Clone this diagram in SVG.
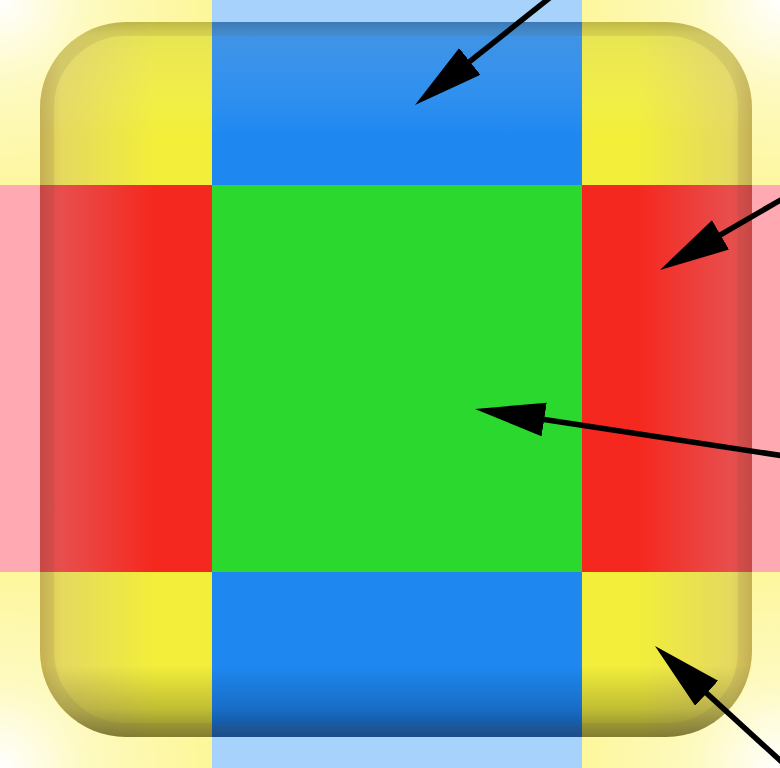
<svg xmlns="http://www.w3.org/2000/svg" width="780" height="768" viewBox="0 0 780 768">
<defs>
  <style>
    .conn{stroke:#000;stroke-width:5.5;fill:none;marker-end:url(#ah)}
  </style>
  <marker id="ah" markerUnits="userSpaceOnUse" markerWidth="72" markerHeight="36" refX="30" refY="17" orient="auto" viewBox="0 0 72 36">
    <path d="M0,0 L70,17 L0,34 z" fill="#000"/>
  </marker>
  <clipPath id="btn"><rect x="40" y="22" width="712" height="715" rx="86" ry="86"/></clipPath>
  <radialGradient id="cTL" gradientUnits="userSpaceOnUse" cx="0" cy="0" r="200">
    <stop offset="0" stop-color="#fff"/><stop offset="0.45" stop-color="#fff" stop-opacity="0.35"/><stop offset="1" stop-color="#fff" stop-opacity="0"/>
  </radialGradient>
  <radialGradient id="cTR" gradientUnits="userSpaceOnUse" cx="780" cy="0" r="200">
    <stop offset="0" stop-color="#fff"/><stop offset="0.45" stop-color="#fff" stop-opacity="0.35"/><stop offset="1" stop-color="#fff" stop-opacity="0"/>
  </radialGradient>
  <radialGradient id="cBL" gradientUnits="userSpaceOnUse" cx="0" cy="768" r="200">
    <stop offset="0" stop-color="#fff"/><stop offset="0.45" stop-color="#fff" stop-opacity="0.35"/><stop offset="1" stop-color="#fff" stop-opacity="0"/>
  </radialGradient>
  <radialGradient id="cBR" gradientUnits="userSpaceOnUse" cx="780" cy="768" r="200">
    <stop offset="0" stop-color="#fff"/><stop offset="0.45" stop-color="#fff" stop-opacity="0.35"/><stop offset="1" stop-color="#fff" stop-opacity="0"/>
  </radialGradient>
  <linearGradient id="hShade" gradientUnits="userSpaceOnUse" x1="40" y1="0" x2="752" y2="0">
    <stop offset="0" stop-color="#a07080" stop-opacity="0.4"/>
    <stop offset="0.03" stop-color="#c8a8b8" stop-opacity="0.3"/>
    <stop offset="0.16" stop-color="#c8a8b8" stop-opacity="0"/>
    <stop offset="0.84" stop-color="#c8a8b8" stop-opacity="0"/>
    <stop offset="0.97" stop-color="#c8a8b8" stop-opacity="0.3"/>
    <stop offset="1" stop-color="#a07080" stop-opacity="0.4"/>
  </linearGradient>
  <linearGradient id="vShade" gradientUnits="userSpaceOnUse" x1="0" y1="22" x2="0" y2="737">
    <stop offset="0" stop-color="#706860" stop-opacity="0.3"/>
    <stop offset="0.02" stop-color="#c0c0b8" stop-opacity="0.2"/>
    <stop offset="0.16" stop-color="#ffffff" stop-opacity="0"/>
    <stop offset="0.9" stop-color="#000020" stop-opacity="0"/>
    <stop offset="0.96" stop-color="#000020" stop-opacity="0.2"/>
    <stop offset="1" stop-color="#000020" stop-opacity="0.45"/>
  </linearGradient>
</defs>

<g id="outside">
  <rect x="0" y="0" width="212" height="185" fill="#fdf79c"/>
  <rect x="582" y="0" width="198" height="185" fill="#fdf79c"/>
  <rect x="0" y="572" width="212" height="196" fill="#fdf79c"/>
  <rect x="582" y="572" width="198" height="196" fill="#fdf79c"/>
  <rect x="212" y="0" width="370" height="185" fill="#a6d2fb"/>
  <rect x="212" y="572" width="370" height="196" fill="#a6d2fb"/>
  <rect x="0" y="185" width="212" height="387" fill="#ffaab2"/>
  <rect x="582" y="185" width="198" height="387" fill="#ffaab2"/>
  <rect x="212" y="185" width="370" height="387" fill="#2ad82e"/>
  <rect x="0" y="0" width="212" height="185" fill="url(#cTL)"/>
  <rect x="582" y="0" width="198" height="185" fill="url(#cTR)"/>
  <rect x="0" y="572" width="212" height="196" fill="url(#cBL)"/>
  <rect x="582" y="572" width="198" height="196" fill="url(#cBR)"/>
</g>

<g id="button" clip-path="url(#btn)">
  <g id="corner-tl"><rect x="0" y="0" width="212" height="185" fill="#f2ee3a"/></g>
  <g id="corner-tr"><rect x="582" y="0" width="198" height="185" fill="#f2ee3a"/></g>
  <g id="corner-bl"><rect x="0" y="572" width="212" height="196" fill="#f2ee3a"/></g>
  <g id="corner-br"><rect x="582" y="572" width="198" height="196" fill="#f2ee3a"/></g>
  <g id="edge-top"><rect x="212" y="0" width="370" height="185" fill="#1e88f0"/></g>
  <g id="edge-bottom"><rect x="212" y="572" width="370" height="196" fill="#1e88f0"/></g>
  <g id="edge-left"><rect x="0" y="185" width="212" height="387" fill="#f5281f"/></g>
  <g id="edge-right"><rect x="582" y="185" width="198" height="387" fill="#f5281f"/></g>
  <g id="center"><rect x="212" y="185" width="370" height="387" fill="#2ad82e"/></g>
  <rect x="40" y="22" width="712" height="715" fill="url(#hShade)"/>
  <rect x="40" y="22" width="712" height="715" fill="url(#vShade)"/>
  <rect x="47" y="29" width="698" height="701" rx="79" ry="79" fill="none" stroke="#6a5a40" stroke-opacity="0.12" stroke-width="14"/>
</g>

<g id="connectors">
  <line class="conn" x1="552" y1="-4" x2="446.3" y2="80.1"/>
  <line class="conn" x1="784" y1="198" x2="694.6" y2="249.9"/>
  <line class="conn" x1="784" y1="456" x2="514.5" y2="415"/>
  <line class="conn" x1="784" y1="764" x2="684.5" y2="673"/>
</g>
</svg>
